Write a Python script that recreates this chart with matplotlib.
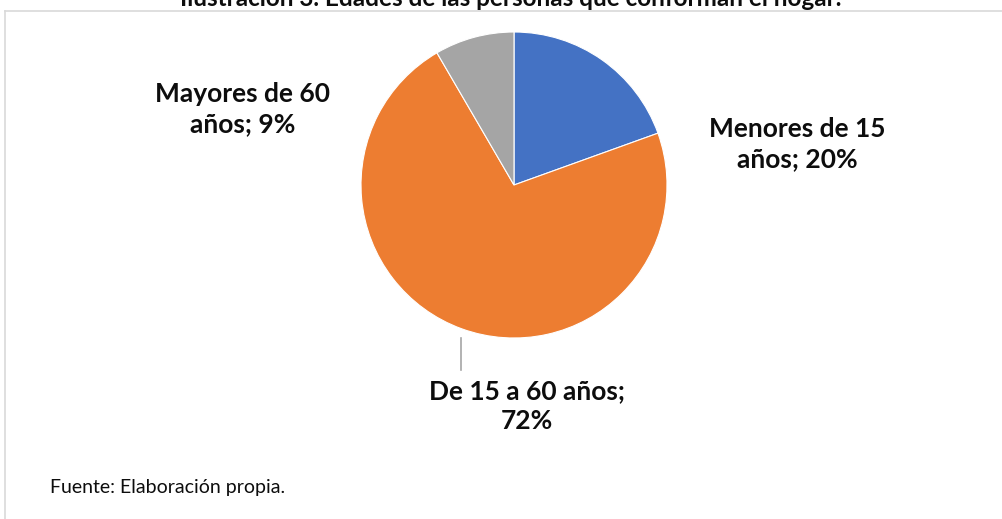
import matplotlib.pyplot as plt

# Datos del gráfico
categorias = ['Menores de 15 años', 'De 15 a 60 años', 'Mayores de 60 años']
proporciones = [19.5, 72.1, 8.4]
porcentajes = [20, 72, 9]
colores = ['#4472C4', '#ED7D31', '#A5A5A5']

titulo = 'Ilustración 3. Edades de las personas que conforman el hogar.'
fuente = 'Fuente: Elaboración propia.'

W, H = 1002, 519
fig = plt.figure(figsize=(W / 100, H / 100), dpi=100)
ax = fig.add_axes([0, 0, 1, 1])

# Gráfico circular
ax.pie(proporciones, colors=colores, startangle=90, counterclock=False,
       center=(514, H - 185), radius=153,
       wedgeprops={'edgecolor': 'white', 'linewidth': 0.8})

# los límites se fijan después de pie() porque pie() los cambia
ax.set_xlim(0, W)
ax.set_ylim(0, H)
ax.set_aspect('equal')
ax.axis('off')

fam = ['Lato', 'DejaVu Sans']
# Etiquetas
etiquetas = [
    ('Menores de 15\naños; %d%%' % porcentajes[0], 797, 144),
    ('De 15 a 60 años;\n%d%%' % porcentajes[1], 527, 406),
    ('Mayores de 60\naños; %d%%' % porcentajes[2], 243, 109),
]
for txt, x, y in etiquetas:
    ax.text(x, H - y, txt, ha='center', va='center', fontsize=19,
            fontweight='bold', family=fam, linespacing=1.32, color='#0D0D0D')

# Línea guía
ax.plot([461, 461], [H - 338, H - 370], color='#A6A6A6', lw=1.2)

# Marco del área del gráfico
ax.plot([5, W], [H - 11, H - 11], color='#D9D9D9', lw=1.2)
ax.plot([5, 5], [H - 11, 0], color='#D9D9D9', lw=1.2)

ax.text(511, H - 6, titulo, ha='center', va='baseline', fontsize=17.5,
        fontweight='bold', family=fam, color='#0D0D0D')
ax.text(50, H - 487, fuente, ha='left', va='center', fontsize=14,
        family=fam, color='#0D0D0D')

fig.savefig('out.png', dpi=100)
